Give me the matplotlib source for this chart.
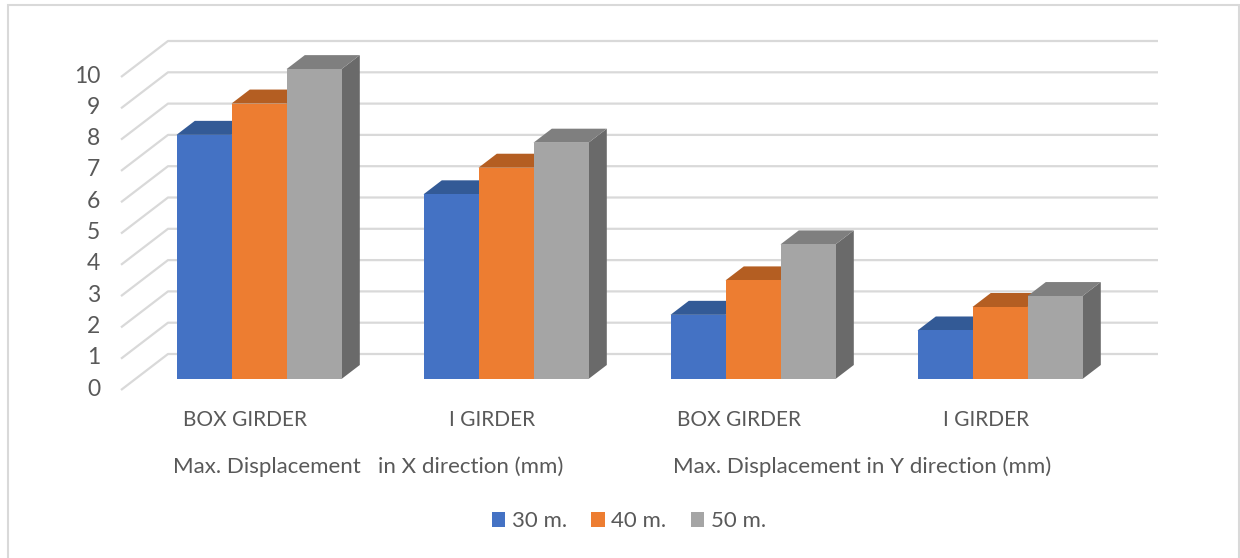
import matplotlib
matplotlib.use("Agg")
import matplotlib.pyplot as plt
from matplotlib.patches import Polygon, Rectangle, Patch

# data
series = ["30 m.", "40 m.", "50 m."]
categories = ["BOX GIRDER", "I GIRDER", "BOX GIRDER", "I GIRDER"]
groups = ["Max. Displacement   in X direction (mm)",
          "Max. Displacement in Y direction (mm)"]
val_30 = [7.8, 5.9, 2.05, 1.55]
val_40 = [8.8, 6.75, 3.15, 2.3]
val_50 = [9.9, 7.55, 4.3, 2.65]
y_ticks = list(range(0, 11))

front_colors = ["#4472C4", "#ED7D31", "#A5A5A5"]
top_colors = ["#335A96", "#B45E22", "#7F7F7F"]
side_colors = ["#2F5597", "#AE5A21", "#6A6A6A"]
grid_col = "#D9D9D9"
text_col = "#595959"

plt.rcParams["font.family"] = ["Lato", "DejaVu Sans"]
fs = 15.5

# pixel -> data scale (oblique "3d" look is done by hand)
PX = 1 / 247.0   # x units per pixel (one category = 247 px)
PY = 1 / 31.3    # value units per pixel

fig = plt.figure(figsize=(12.4, 5.58), dpi=100)
ax = fig.add_axes([0, 0, 1, 1])
ax.set_xlim(-259 * PX, (1240 - 259) * PX)
ax.set_ylim(-179 * PY, (558 - 179) * PY)
ax.axis("off")

# walls / gridlines
wall_front_x = (121 - 259) * PX
wall_back_x = (168 - 259) * PX
wall_right_x = (1158 - 259) * PX
front_dy = -11 * PY
back_dy = 25 * PY
for v in y_ticks:
    ax.plot([wall_front_x, wall_back_x, wall_right_x],
            [v + front_dy, v + back_dy, v + back_dy],
            color=grid_col, lw=1.6, zorder=1, solid_capstyle="butt")
    ax.text((100 - 259) * PX, v - 10 * PY, str(v), ha="right", va="center",
            fontsize=fs + 1, color=text_col)

# bars
bw = 55 * PX
start = -82.5 * PX
ddx = 18.3 * PX
ddy = 14 * PY
all_vals = [val_30, val_40, val_50]
z = 2
for c in range(len(categories)):
    for i, vals in enumerate(all_vals):
        v = vals[c]
        x0 = c + start + i * bw
        side = Polygon([(x0 + bw, 0), (x0 + bw + ddx, ddy),
                        (x0 + bw + ddx, v + ddy), (x0 + bw, v)],
                       closed=True, facecolor=side_colors[i], edgecolor="none", zorder=z)
        top = Polygon([(x0, v), (x0 + bw, v), (x0 + bw + ddx, v + ddy), (x0 + ddx, v + ddy)],
                      closed=True, facecolor=top_colors[i], edgecolor="none", zorder=z)
        front = Rectangle((x0, 0), bw, v, facecolor=front_colors[i],
                          edgecolor="none", zorder=z + 0.5)
        ax.add_patch(side)
        ax.add_patch(top)
        ax.add_patch(front)
        z += 1

# category labels
for c, name in enumerate(categories):
    ax.text(c - 14 * PX, -41 * PY, name, ha="center", va="center",
            fontsize=fs - 0.5, color=text_col)

# group labels
for g, name in enumerate(groups):
    ax.text(2 * g + 0.5 - 14 * PX, -88 * PY, name, ha="center", va="center",
            fontsize=fs + 0.5, color=text_col)

# legend
handles = [Patch(facecolor=front_colors[i], edgecolor="none", label=series[i])
           for i in range(3)]
fig.legend(handles=handles, loc="center", bbox_to_anchor=(629 / 1240, 1 - 521 / 558),
           ncol=3, frameon=False, fontsize=fs + 0.5, labelcolor=text_col,
           handlelength=0.6, handleheight=0.65, handletextpad=0.3, columnspacing=1.1)

# chart border
fig.patches.append(Rectangle((8 / 1240, -0.02), (1239 - 8) / 1240, 1.02 - 5 / 558,
                             transform=fig.transFigure, fill=False,
                             edgecolor=grid_col, lw=1.5))

fig.savefig("out.png", dpi=100)
